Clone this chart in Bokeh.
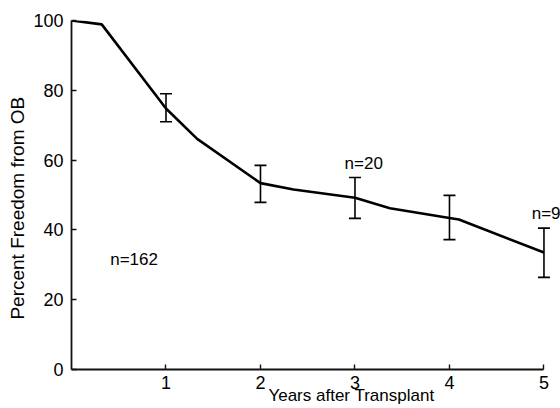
from bokeh.plotting import figure
from bokeh.models import Range1d, FixedTicker, Whisker, TeeHead, ColumnDataSource, Label
from bokeh.embed import file_html
from bokeh.resources import INLINE

# Data
years = [0, 0.32, 1.0, 1.33, 2.0, 2.35, 3.0, 3.37, 4.0, 4.1, 5.0]
freedom = [100, 98.9, 74.8, 66.1, 53.4, 51.6, 49.2, 46.2, 43.4, 43.0, 33.5]

err_years = [1, 2, 3, 4, 5]
err_upper = [79.0, 58.5, 55.0, 49.9, 40.5]
err_lower = [71.0, 47.9, 43.3, 37.2, 26.4]

x_ticks = [1, 2, 3, 4, 5]
y_ticks = [0, 20, 40, 60, 80, 100]

n_labels = ["n=162", "n=20", "n=9"]
n_x = [0.41, 2.89, 4.87]
n_y = [31.5, 58.9, 44.7]

x_title = "Years after Transplant"
y_title = "Percent Freedom from OB"

FONT = "Liberation Sans"
NB = "\u00a0"

p = figure(width=560, height=408, output_backend="svg", toolbar_location=None,
           x_range=Range1d(0, 5.175), y_range=Range1d(0, 100),
           min_border_left=71, min_border_right=0, min_border_top=20, min_border_bottom=39)
p.outline_line_color = None
p.grid.visible = False
p.background_fill_color = "white"
p.border_fill_color = "white"

for ax in (p.xaxis[0], p.yaxis[0]):
    ax.axis_line_color = "#111111"
    ax.axis_line_width = 1.8
    ax.major_tick_line_color = "#111111"
    ax.major_tick_line_width = 1.4
    ax.major_tick_in = 5
    ax.major_tick_out = 0
    ax.minor_tick_line_color = None
    ax.major_label_text_font = FONT
    ax.major_label_text_font_size = "18px"
    ax.major_label_text_color = "black"
    ax.axis_label_text_font = FONT
    ax.axis_label_text_font_style = "normal"
    ax.axis_label_text_color = "black"

p.xaxis.bounds = (0, 5)
p.yaxis.bounds = (0, 100)
p.xaxis.ticker = FixedTicker(ticks=x_ticks)
p.yaxis.ticker = FixedTicker(ticks=y_ticks)

p.xaxis.major_label_standoff = 6
p.xaxis.axis_label = NB * 15 + x_title
p.xaxis.axis_label_text_font_size = "17px"
p.xaxis.axis_label_standoff = -6

p.yaxis.major_label_standoff = 8
p.yaxis.axis_label = y_title + NB * 5
p.yaxis.axis_label_text_font_size = "19px"
p.yaxis.axis_label_standoff = 2

src = ColumnDataSource(dict(x=years, y=freedom))
p.line("x", "y", source=src, line_color="black", line_width=2.6, line_join="round")

esrc = ColumnDataSource(dict(base=err_years, upper=err_upper, lower=err_lower))
w = Whisker(source=esrc, base="base", upper="upper", lower="lower", dimension="height",
            line_color="black", line_width=1.6,
            upper_head=TeeHead(size=12, line_color="black", line_width=1.6),
            lower_head=TeeHead(size=12, line_color="black", line_width=1.6))
p.add_layout(w)

for t, x, y in zip(n_labels, n_x, n_y):
    p.add_layout(Label(x=x, y=y, text=t, text_font=FONT, text_font_size="17px",
                       text_color="black", text_align="left", text_baseline="middle"))

open("out.html", "w").write(file_html(p, INLINE))
